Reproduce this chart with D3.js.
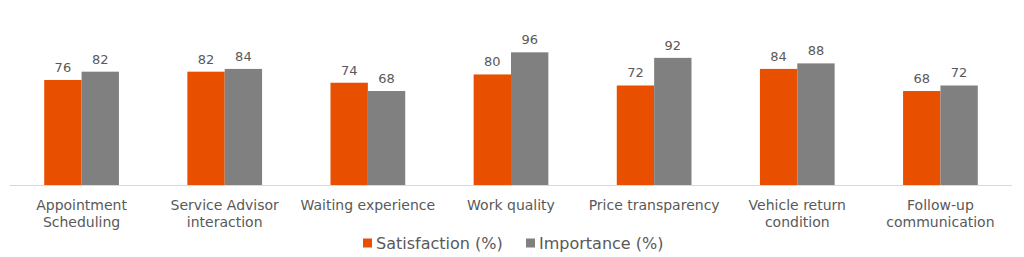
<!DOCTYPE html>
<html lang="en">
<head>
    <meta charset="UTF-8">
    <title>Satisfaction vs Importance</title>
    <script src="https://d3js.org/d3.v7.min.js"></script>
    <style>
        body { margin: 0; background: #fff; }
        text { font-family: "DejaVu Sans", sans-serif; fill: #595959; }
    </style>
</head>
<body>
    <svg width="1024" height="257"></svg>
    <script>
        const categories = [
            ["Appointment", "Scheduling"],
            ["Service Advisor", "interaction"],
            ["Waiting experience"],
            ["Work quality"],
            ["Price transparency"],
            ["Vehicle return", "condition"],
            ["Follow-up", "communication"]
        ];
        const satisfaction = [76, 82, 74, 80, 72, 84, 68];
        const importance = [82, 84, 68, 96, 92, 88, 72];
        const seriesNames = ["Satisfaction (%)", "Importance (%)"];
        const colors = ["#E85000", "#808080"];

        const svg = d3.select("svg");
        const plotLeft = 10, plotRight = 1012, plotBase = 185, plotTop = 46.8;

        const x0 = d3.scaleBand()
            .domain(d3.range(categories.length))
            .range([plotLeft, plotRight])
            .paddingInner(0.478)
            .paddingOuter(0.239);
        const x1 = d3.scaleBand()
            .domain([0, 1])
            .range([0, x0.bandwidth()]);
        const y = d3.scaleLinear().domain([0, 100]).range([plotBase, plotTop]);

        const rows = categories.map((c, i) => [satisfaction[i], importance[i]]);

        const groups = svg.selectAll(".group")
            .data(rows)
            .enter().append("g")
            .attr("class", "group")
            .attr("transform", (d, i) => `translate(${x0(i)},0)`);

        groups.selectAll("rect")
            .data(d => d)
            .enter().append("rect")
            .attr("x", (d, j) => x1(j))
            .attr("y", d => y(d))
            .attr("width", x1.bandwidth())
            .attr("height", d => plotBase - y(d))
            .attr("fill", (d, j) => colors[j]);

        groups.selectAll(".val")
            .data(d => d)
            .enter().append("text")
            .attr("class", "val")
            .attr("x", (d, j) => x1(j) + x1.bandwidth() / 2)
            .attr("y", d => y(d) - 8)
            .attr("text-anchor", "middle")
            .style("font-size", "13px")
            .text(d => d);

        // baseline
        svg.append("line")
            .attr("x1", plotLeft).attr("x2", plotRight)
            .attr("y1", plotBase + 0.5).attr("y2", plotBase + 0.5)
            .attr("stroke", "#d9d9d9");

        // category labels
        const cat = svg.selectAll(".cat")
            .data(categories)
            .enter().append("text")
            .attr("class", "cat")
            .attr("x", (d, i) => x0(i) + x0.bandwidth() / 2)
            .attr("y", 209.5)
            .attr("text-anchor", "middle")
            .style("font-size", "14px");
        cat.selectAll("tspan")
            .data(d => d)
            .enter().append("tspan")
            .attr("x", function () { return d3.select(this.parentNode).attr("x"); })
            .attr("dy", (d, k) => k === 0 ? 0 : 17.5)
            .text(d => d);

        // legend
        const legendX = [363, 526];
        const legend = svg.selectAll(".leg")
            .data(seriesNames)
            .enter().append("g")
            .attr("class", "leg")
            .attr("transform", (d, i) => `translate(${legendX[i]},238.5)`);
        legend.append("rect")
            .attr("width", 9).attr("height", 9)
            .attr("fill", (d, i) => colors[i]);
        legend.append("text")
            .attr("x", 13).attr("y", 10.5)
            .style("font-size", "16px")
            .text(d => d);
    </script>
</body>
</html>
